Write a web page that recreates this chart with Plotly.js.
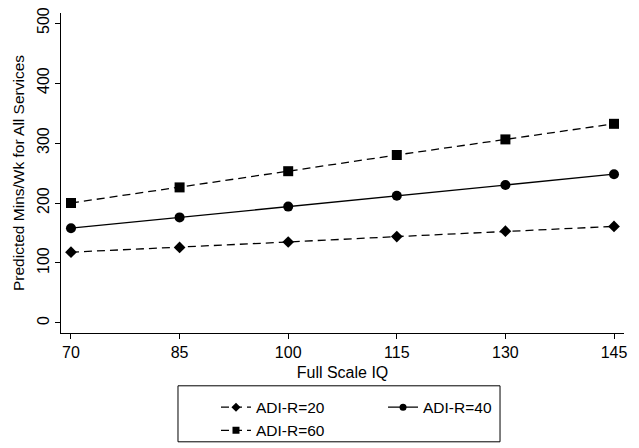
<!DOCTYPE html>
<html><head><meta charset="utf-8">
<script src="https://cdn.plot.ly/plotly-3.0.1.min.js"></script>
<style>body{margin:0;background:#fff}#c{width:639px;height:448px}</style>
</head><body><div id="c"></div>
<script>
const iq = [70, 85, 100, 115, 130, 145];
const adi20 = [118, 126, 135, 144, 153, 161];
const adi40 = [158, 176, 194, 212, 230, 248];
const adi60 = [200, 226, 253, 280, 306, 332];
const seriesNames = ['ADI-R=20', 'ADI-R=40', 'ADI-R=60'];
const xTicks = [70, 85, 100, 115, 130, 145];
const yTicks = [0, 100, 200, 300, 400, 500];

const font = {family: 'Liberation Sans, Arial, Helvetica, sans-serif', color: '#000', size: 16};
const dash = '8px,5px';
const styles = [
  {line: {color: '#000', width: 1.3, dash: dash}, symbol: 'diamond', size: 9},
  {line: {color: '#000', width: 1.3}, symbol: 'circle', size: 10},
  {line: {color: '#000', width: 1.3, dash: dash}, symbol: 'square', size: 10}
];
const ys = [adi20, adi40, adi60];
const legendIds = ['legend', 'legend2', 'legend'];
const traces = [];
ys.forEach((y, i) => {
  traces.push({x: iq, y: y, name: seriesNames[i], mode: 'lines+markers', type: 'scatter',
    showlegend: false, line: styles[i].line,
    marker: {symbol: styles[i].symbol, size: styles[i].size, color: '#000'}});
});
// legend entries (smaller markers as in the reference key)
ys.forEach((y, i) => {
  traces.push({x: [null], y: [null], name: seriesNames[i], mode: 'lines+markers', type: 'scatter',
    showlegend: true, legend: legendIds[i], line: styles[i].line,
    marker: {symbol: styles[i].symbol, size: 7, color: '#000'}});
});

const layout = {
  width: 639, height: 448,
  margin: {l: 61, r: 15, t: 13, b: 115, autoexpand: false},
  paper_bgcolor: '#fff', plot_bgcolor: '#fff',
  font: font,
  showlegend: true,
  legend: {orientation: 'v', x: 0.2753, xanchor: 'left', y: -0.18, yanchor: 'top',
    bgcolor: 'rgba(0,0,0,0)', borderwidth: 0, font: {size: 15.5}, traceorder: 'normal', tracegroupgap: 0},
  legend2: {orientation: 'v', x: 0.572, xanchor: 'left', y: -0.18, yanchor: 'top',
    bgcolor: 'rgba(0,0,0,0)', borderwidth: 0, font: {size: 15.5}, traceorder: 'normal'},
  shapes: [{type: 'rect', xref: 'paper', yref: 'paper', x0: 0.2078, x1: 0.7798, y0: -0.34, y1: -0.165,
    line: {color: '#000', width: 1}, fillcolor: 'rgba(0,0,0,0)'}],
  xaxis: {range: [68.62, 146.38], tickvals: xTicks, ticktext: xTicks.map(String),
    showgrid: false, zeroline: false, showline: true, linecolor: '#000', linewidth: 1,
    ticks: 'outside', ticklen: 5, tickcolor: '#000', tickfont: {size: 16},
    title: {text: 'Full Scale IQ', font: {size: 16}, standoff: 6}},
  yaxis: {range: [-16.7, 516.7], tickvals: yTicks, ticktext: yTicks.map(String),
    showgrid: false, zeroline: false, showline: true, linecolor: '#000', linewidth: 1,
    ticks: 'outside', ticklen: 5, tickcolor: '#000', tickangle: -90, tickfont: {size: 16},
    title: {text: 'Predicted Mins/Wk for All Services', font: {size: 15.5}, standoff: 6}}
};
Plotly.newPlot('c', traces, layout, {displayModeBar: false, staticPlot: true});
</script></body></html>
